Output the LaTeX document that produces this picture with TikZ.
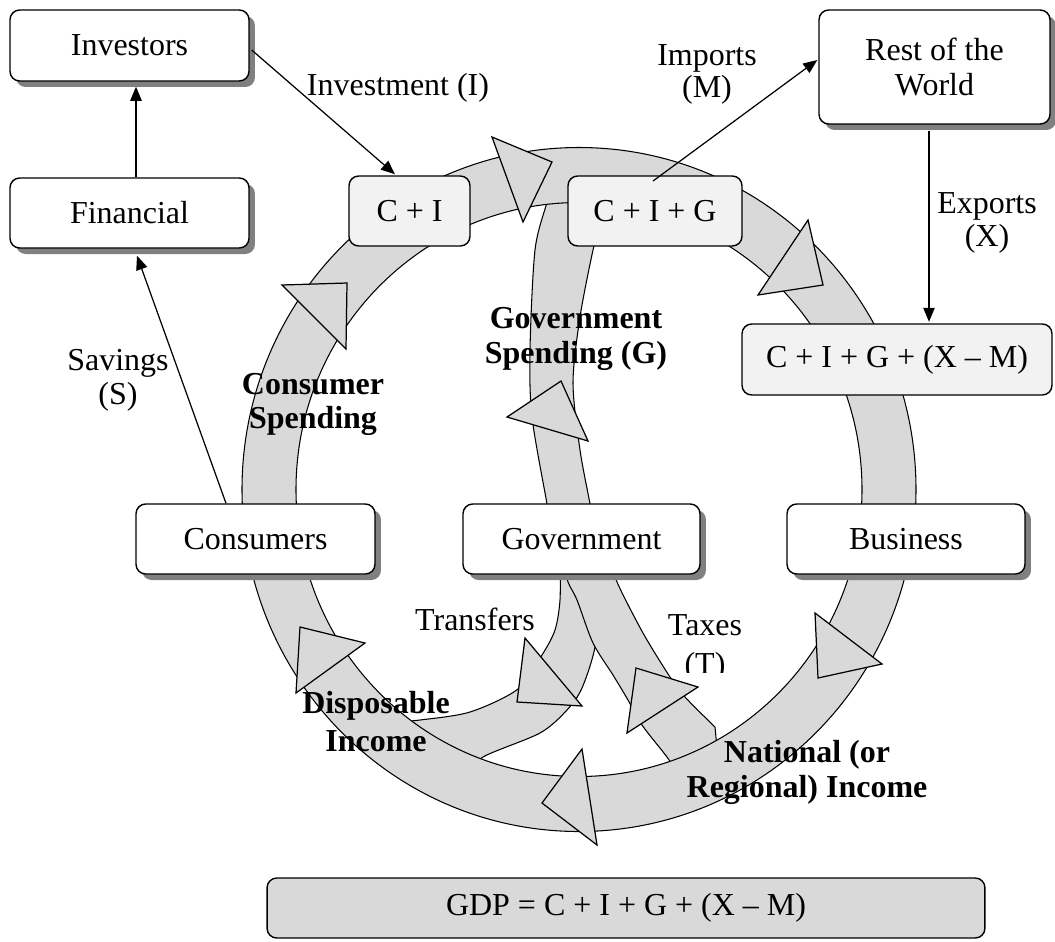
\documentclass[tikz,border=0pt]{standalone}
\usepackage{fontspec}
\setmainfont{Liberation Serif}
\usetikzlibrary{arrows.meta,shadows,calc}
\definecolor{bandgray}{HTML}{D9D9D9}
\definecolor{boxlight}{HTML}{F2F2F2}
\definecolor{shadowgray}{HTML}{808080}
\begin{document}
\begin{tikzpicture}[x=0.02cm,y=-0.02cm,
  font=\fontsize{18.2}{19.8}\selectfont,
  wbox/.style={draw, line width=0.8pt, rounded corners=5.5pt, fill=white, inner sep=0pt,
    drop shadow={shadow xshift=0.12cm, shadow yshift=-0.12cm, fill=shadowgray, opacity=1}},
  lbox/.style={draw, line width=0.8pt, rounded corners=5.5pt, fill=boxlight, inner sep=0pt},
  gbox/.style={draw, line width=0.8pt, rounded corners=5.5pt, fill=bandgray, inner sep=0pt},
  band/.style={fill=bandgray, draw=black, line width=0.6pt},
  tri/.style={fill=bandgray, draw=black, line width=0.7pt, line join=miter},
  conn/.style={line width=0.7pt, -{Triangle[length=8pt,width=6.5pt]}},
  lbl/.style={anchor=base, align=center, inner sep=0pt},
]
\useasboundingbox (0,0) rectangle (1055,941);
\fill[white] (0,0) rectangle (1055,941);

% secondary bands
\filldraw[band] plot[smooth] coordinates {(551,182) (547,202) (535,250) (530,350) (532,417) (547,504) (549,520)}
  -- plot[smooth] coordinates {(592,520) (590,504) (580,450) (573,383) (580,317) (593,250) (597,240) (605,205)} -- cycle;
\filldraw[band] plot[smooth] coordinates {(560,560) (560,600) (555,630) (542,655) (518,689) (470,712) (420,720) (395,722)}
  -- plot[smooth] coordinates {(470,775) (483,757) (540,733) (567,710) (582,688) (595,647) (598,600) (598,560)} -- cycle;
\filldraw[band] plot[smooth] coordinates {(563,560) (568,582) (577,600) (593,643) (613,675) (628,700) (642,725) (667,757) (675,770)}
  -- (717,748) -- plot[smooth] coordinates {(715,727) (685,697) (670,677) (643,633) (617,582) (612,560)} -- cycle;

% main ring
\filldraw[band, even odd rule] (579,489.5) ellipse [x radius=337, y radius=342]
  (579,489.5) ellipse [x radius=283, y radius=287];

% arrow heads on the bands
\filldraw[tri] (282,285) -- (347,283) -- (346,349) -- cycle;
\filldraw[tri] (492,137) -- (552,162) -- (523,222) -- cycle;
\filldraw[tri] (808,220) -- (823,285) -- (758,295) -- cycle;
\filldraw[tri] (507,417) -- (561,381) -- (588,441) -- cycle;
\filldraw[tri] (815,613) -- (882,664) -- (818,678) -- cycle;
\filldraw[tri] (300,627) -- (365,643) -- (296,693) -- cycle;
\filldraw[tri] (525,638) -- (582,706) -- (517,702) -- cycle;
\filldraw[tri] (636,668) -- (698,687) -- (627,733) -- cycle;
\filldraw[tri] (582,749) -- (597,845) -- (542,803) -- cycle;

% boxes
\node[wbox, minimum width=4.78cm, minimum height=1.42cm] (inv) at (129.5,45.5) {Investors};
\node[wbox, minimum width=4.78cm, minimum height=1.40cm] (fin) at (129.5,213) {Financial};
\node[lbox, minimum width=2.42cm, minimum height=1.40cm] (ci) at (409.5,211) {C + I};
\node[lbox, minimum width=3.48cm, minimum height=1.40cm] (cig) at (655,211) {C + I + G};
\node[wbox, minimum width=4.62cm, minimum height=2.28cm, align=center] (row) at (934.5,67) {Rest of the\\World};
\node[lbox, minimum width=6.2cm, minimum height=1.42cm] (cigxm) at (897,359.5) {C + I + G + (X – M)};
\node[wbox, minimum width=4.78cm, minimum height=1.40cm] (cons) at (255.5,539) {Consumers};
\node[wbox, minimum width=4.74cm, minimum height=1.40cm] (gov) at (581.5,539) {Government};
\node[wbox, minimum width=4.76cm, minimum height=1.40cm] (bus) at (906,539) {Business};
\node[gbox, minimum width=14.36cm, minimum height=1.2cm] (gdp) at (626,908) {GDP = C + I + G + (X – M)};

% connectors
\coordinate (mstart) at (653,181);
\draw[conn] ($(fin.north)+(6.5,0)$) -- ($(inv.south)+(6.5,5)$);
\draw[conn] ($(inv.east)+(2,4.5)$) -- ($(ci.north)+(-14.5,-1)$);
\draw[conn] (mstart) -- ($(row.west)+(-1,-7)$);
\draw[conn] ($(row.south)+(-5.5,6)$) -- ($(cigxm.north)+(32,-1.5)$);
\draw[conn] ($(cons.north)+(-29.5,0)$) -- ($(fin.south)+(7.5,7)$);

% labels (anchor base = baseline of the last line)
\node[lbl] (linv) at (398,95) {Investment (I)};
\node[lbl, font=\fontsize{18.2}{18.1}\selectfont] (limp) at (707,97) {Imports\\(M)};
\node[lbl, font=\fontsize{18.2}{18.7}\selectfont] (lexp) at (987,246) {Exports\\(X)};
\node[lbl, font=\fontsize{18.2}{19.3}\selectfont] (lsav) at (118,404) {Savings\\(S)};
\node[lbl, font=\bfseries\fontsize{18.2}{19.3}\selectfont] (lcs) at (313,428) {Consumer\\Spending};
\node[lbl, font=\bfseries\fontsize{18.2}{19.8}\selectfont] (lgs) at (576,363) {Government\\Spending (G)};
\node[lbl] (ltr) at (475,630) {Transfers};
\begin{scope}
  \clip (630,590) rectangle (790,672);
  \node[lbl, font=\fontsize{18.2}{22.1}\selectfont] (ltax) at (705,674) {Taxes\\(T)};
\end{scope}
\node[lbl, font=\bfseries\fontsize{18.2}{21.5}\selectfont] (ldi) at (376,751) {Disposable\\Income};
\node[lbl, font=\bfseries\fontsize{18.2}{19.8}\selectfont] (lni) at (807,797) {National (or\\Regional) Income};
\end{tikzpicture}
\end{document}
